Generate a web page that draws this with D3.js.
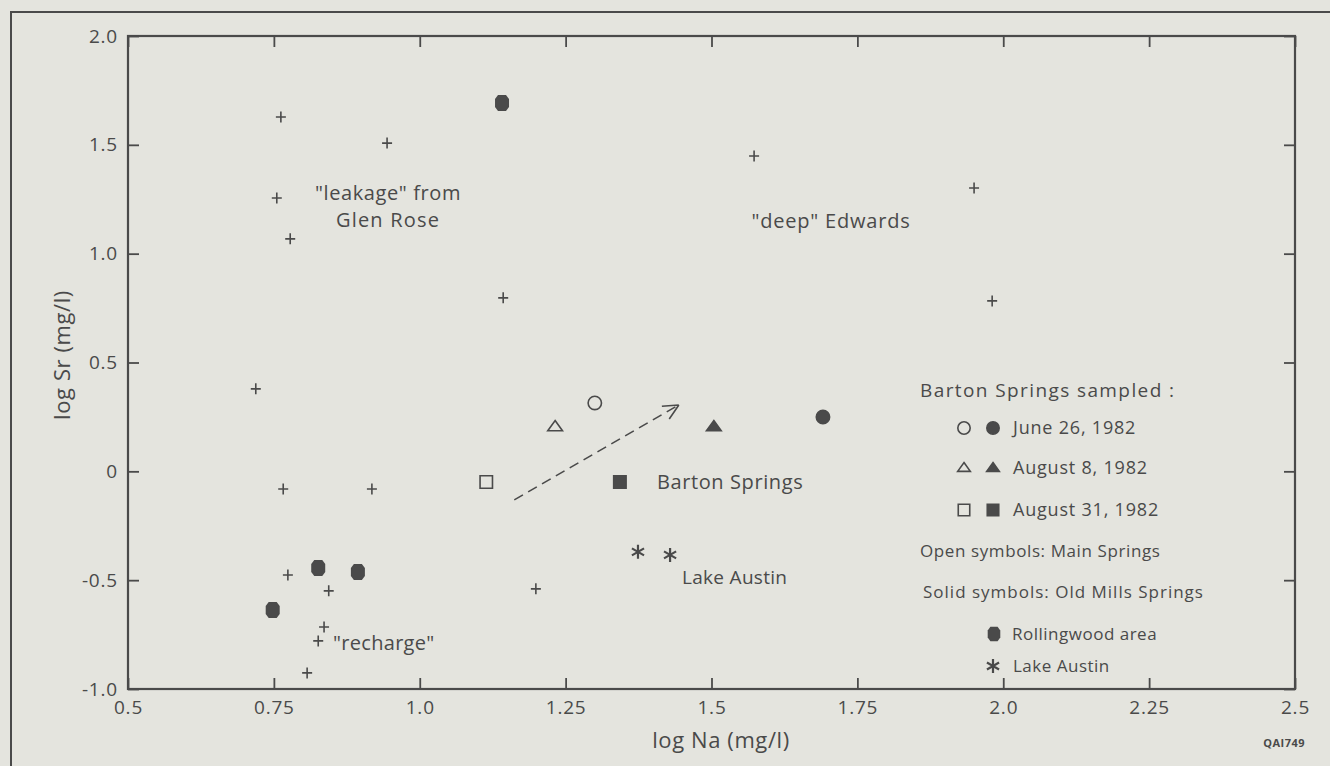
<!DOCTYPE html>
<html>
<head>
<meta charset="utf-8">
<script src="https://cdn.jsdelivr.net/npm/d3@7"></script>
<style>
  body { margin: 0; background: #e4e4de; }
  svg { display: block; }
  text { font-family: "Open Sans", Lato, sans-serif; fill: #4a4a4a; }
</style>
</head>
<body>
<svg id="chart" width="1330" height="766"></svg>
<script>
// log Na / log Sr samples
var wellNa = [0.762, 0.944, 0.755, 0.778, 1.143, 0.719, 0.766, 0.918, 0.774, 0.844, 0.836, 0.826, 0.807, 1.199, 1.573, 1.950, 1.981];
var wellSr = [1.628, 1.508, 1.256, 1.068, 0.797, 0.379, -0.081, -0.081, -0.476, -0.549, -0.715, -0.779, -0.926, -0.540, 1.449, 1.302, 0.783];

var rollingwoodNa = [0.826, 0.894, 0.748, 1.141];
var rollingwoodSr = [-0.444, -0.462, -0.637, 1.692];

var lakeAustinNa = [1.374, 1.429];
var lakeAustinSr = [-0.370, -0.384];

// Barton Springs: date, spring (open = Main, solid = Old Mills)
var bartonDate = ["June 26, 1982", "August 8, 1982", "August 31, 1982", "June 26, 1982", "August 8, 1982", "August 31, 1982"];
var bartonOpen = [true, true, true, false, false, false];
var bartonNa = [1.300, 1.232, 1.114, 1.691, 1.504, 1.343];
var bartonSr = [0.314, 0.204, -0.049, 0.250, 0.204, -0.049];

var trendFrom = [1.162, -0.131];
var trendTo = [1.444, 0.305];

var xTicks = [0.5, 0.75, 1.0, 1.25, 1.5, 1.75, 2.0, 2.25, 2.5];
var xTickLabels = ["0.5", "0.75", "1.0", "1.25", "1.5", "1.75", "2.0", "2.25", "2.5"];
var yTicks = [2.0, 1.5, 1.0, 0.5, 0, -0.5, -1.0];
var yTickLabels = ["2.0", "1.5", "1.0", "0.5", "0", "-0.5", "-1.0"];

var dates = ["June 26, 1982", "August 8, 1982", "August 31, 1982"];

var ink = "#4a4a4a";
var svg = d3.select("#chart");

var x = d3.scaleLinear().domain([0.5, 2.5]).range([128, 1295]);
var y = d3.scaleLinear().domain([-1, 2]).range([689, 36]);

// outer page frame
svg.append("path")
  .attr("d", "M11,766 L11,12 L1330,12")
  .attr("fill", "none").attr("stroke", ink).attr("stroke-width", 2);

// plot frame
svg.append("rect")
  .attr("x", x(0.5)).attr("y", y(2))
  .attr("width", x(2.5) - x(0.5)).attr("height", y(-1) - y(2))
  .attr("fill", "none").attr("stroke", ink).attr("stroke-width", 2.2);

function fmt(vals, labels) {
  return function(d) { return labels[vals.indexOf(d)]; };
}

var gx = svg.append("g").attr("transform", "translate(0," + y(-1) + ")")
  .call(d3.axisBottom(x).tickValues(xTicks).tickFormat(fmt(xTicks, xTickLabels))
    .tickSize(-11).tickPadding(12));
var gxTop = svg.append("g").attr("transform", "translate(0," + y(2) + ")")
  .call(d3.axisTop(x).tickValues(xTicks).tickFormat("").tickSize(-11));
var gy = svg.append("g").attr("transform", "translate(" + x(0.5) + ",0)")
  .call(d3.axisLeft(y).tickValues(yTicks).tickFormat(fmt(yTicks, yTickLabels))
    .tickSize(-11).tickPadding(10));
var gyRight = svg.append("g").attr("transform", "translate(" + x(2.5) + ",0)")
  .call(d3.axisRight(y).tickValues(yTicks).tickFormat("").tickSize(-11));

[gx, gxTop, gy, gyRight].forEach(function(g) {
  g.select(".domain").remove();
  g.attr("font-size", 19);
  g.selectAll(".tick line").attr("stroke", ink).attr("stroke-width", 1.8);
  g.selectAll(".tick text").attr("font-size", 19).attr("fill", ink)
    .attr("letter-spacing", 0.8);
});

// axis titles
svg.append("text")
  .attr("x", 721).attr("y", 748)
  .attr("text-anchor", "middle").attr("font-size", 22).attr("letter-spacing", 0.6)
  .text("log Na (mg/l)");
svg.append("text")
  .attr("transform", "translate(70,355) rotate(-90)")
  .attr("text-anchor", "middle").attr("font-size", 22).attr("letter-spacing", 0.6)
  .text("log Sr (mg/l)");
svg.append("text")
  .attr("x", 1305).attr("y", 747)
  .attr("text-anchor", "end").attr("font-size", 11).attr("font-weight", 700)
  .attr("letter-spacing", 0.5)
  .text("QAI749");

// marker shapes
var hexPath = "M-4,-8 L4,-8 L7,-4 L7,4 L4,8 L-4,8 L-7,4 L-7,-4 Z";
function asteriskPath(r) {
  var p = "";
  [90, 30, 150].forEach(function(a) {
    var dx = r * Math.cos(a * Math.PI / 180), dy = r * Math.sin(a * Math.PI / 180);
    p += "M" + (-dx) + "," + (-dy) + " L" + dx + "," + dy + " ";
  });
  return p;
}
function shapePath(date, s) {
  var i = dates.indexOf(date);
  if (i === 0) return d3.symbol().type(d3.symbolCircle).size(s * 1.0)();
  if (i === 1) return "M0," + (-s / 22) + " L" + (s / 19) + "," + (s / 36) + " L" + (-s / 19) + "," + (s / 36) + " Z";
  return d3.symbol().type(d3.symbolSquare).size(s * 1.1)();
}

// crosses: wells
svg.append("g").selectAll("path")
  .data(d3.range(wellNa.length))
  .enter().append("path")
    .attr("transform", function(i) { return "translate(" + x(wellNa[i]) + "," + y(wellSr[i]) + ")"; })
    .attr("d", "M-5,0 L5,0 M0,-5.5 L0,5.5")
    .attr("stroke", ink).attr("stroke-width", 1.6);

// Rollingwood hexagons
svg.append("g").selectAll("path")
  .data(d3.range(rollingwoodNa.length))
  .enter().append("path")
    .attr("transform", function(i) { return "translate(" + x(rollingwoodNa[i]) + "," + y(rollingwoodSr[i]) + ")"; })
    .attr("d", hexPath)
    .attr("fill", ink);

// Lake Austin asterisks
svg.append("g").selectAll("path")
  .data(d3.range(lakeAustinNa.length))
  .enter().append("path")
    .attr("transform", function(i) { return "translate(" + x(lakeAustinNa[i]) + "," + y(lakeAustinSr[i]) + ")"; })
    .attr("d", asteriskPath(7))
    .attr("stroke", ink).attr("stroke-width", 2.2);

// Barton Springs
svg.append("g").selectAll("path")
  .data(d3.range(bartonNa.length))
  .enter().append("path")
    .attr("transform", function(i) { return "translate(" + x(bartonNa[i]) + "," + y(bartonSr[i]) + ")"; })
    .attr("d", function(i) { return shapePath(bartonDate[i], 140); })
    .attr("fill", function(i) { return bartonOpen[i] ? "none" : ink; })
    .attr("stroke", ink).attr("stroke-width", 1.6);

// dashed trend arrow
var ax0 = x(trendFrom[0]), ay0 = y(trendFrom[1]), ax1 = x(trendTo[0]), ay1 = y(trendTo[1]);
svg.append("line")
  .attr("x1", ax0).attr("y1", ay0).attr("x2", ax1).attr("y2", ay1)
  .attr("stroke", ink).attr("stroke-width", 1.6).attr("stroke-dasharray", "10,6");
var ang = Math.atan2(ay1 - ay0, ax1 - ax0);
var head = "";
[-0.45, 0.45].forEach(function(o) {
  head += "M" + ax1 + "," + ay1 + " L" + (ax1 - 17 * Math.cos(ang + o)) + "," + (ay1 - 17 * Math.sin(ang + o)) + " ";
});
svg.append("path").attr("d", head).attr("fill", "none").attr("stroke", ink).attr("stroke-width", 1.6);

// annotations
function note(px, py, txt, anchor, size, spacing) {
  svg.append("text")
    .attr("x", px).attr("y", py).attr("dy", "0.35em")
    .attr("text-anchor", anchor || "start").attr("font-size", size || 20)
    .attr("letter-spacing", spacing || 0)
    .text(txt);
}
note(388, 193, "\"leakage\" from", "middle", 20, 0.6);
note(388, 220, "Glen Rose", "middle", 20, 1.2);
note(831, 221, "\"deep\" Edwards", "middle", 20, 0.8);
note(333, 643, "\"recharge\"", "start", 20, 0.3);
note(657, 482, "Barton Springs", "start", 20, 0.6);
note(682, 577, "Lake Austin", "start", 19, 0.3);

// legend
note(920, 390, "Barton Springs sampled :", "start", 19, 1.4);
var rowY = [428, 468, 510];
dates.forEach(function(dt, i) {
  svg.append("path").attr("transform", "translate(964," + rowY[i] + ")")
    .attr("d", shapePath(dt, 120)).attr("fill", "none").attr("stroke", ink).attr("stroke-width", 1.6);
  svg.append("path").attr("transform", "translate(993," + rowY[i] + ")")
    .attr("d", shapePath(dt, 120)).attr("fill", ink).attr("stroke", ink).attr("stroke-width", 1.6);
  note(1013, rowY[i], dt, "start", 18, 0.8);
});
note(920, 551, "Open symbols: Main Springs", "start", 17, 0.6);
note(923, 592, "Solid symbols: Old Mills Springs", "start", 17, 1);
svg.append("path").attr("transform", "translate(994,634) scale(0.9)").attr("d", hexPath).attr("fill", ink);
note(1012, 634, "Rollingwood area", "start", 17, 0.5);
svg.append("path").attr("transform", "translate(993,666)").attr("d", asteriskPath(7))
  .attr("stroke", ink).attr("stroke-width", 2.2);
note(1013, 666, "Lake Austin", "start", 17, 0.5);
</script>
</body>
</html>
